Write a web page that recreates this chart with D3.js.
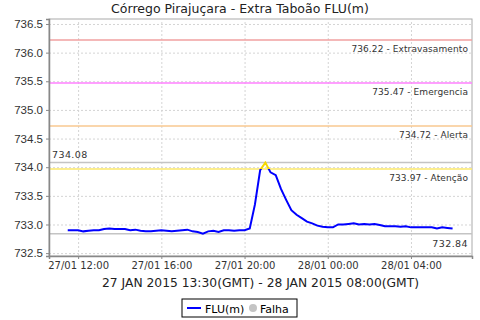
<!DOCTYPE html>
<html>
<head>
<meta charset="utf-8">
<script src="https://cdn.jsdelivr.net/npm/d3@7"></script>
<style>
  body { margin: 0; background: #fff; }
  svg { display: block; font-family: "DejaVu Sans", sans-serif; }
  .grid line { stroke: #d4d4d4; stroke-dasharray: 2,2; }
  .axis path, .axis line { stroke: #888; }
  .axis text { fill: #333; }
</style>
</head>
<body>
<svg id="chart" width="480" height="320"></svg>
<script>
// readings every 15 min, local time, 27/01 11:30 -> 28/01 06:00
const startTime = new Date(2015, 0, 27, 11, 30);
const stepMinutes = 15;
const levels = [
  732.90, 732.90, 732.90, 732.88, 732.89, 732.90, 732.90, 732.92, 732.93, 732.92,
  732.92, 732.92, 732.90, 732.91, 732.89, 732.88, 732.88, 732.89, 732.90, 732.89,
  732.88, 732.89, 732.90, 732.91, 732.88, 732.87, 732.84, 732.88, 732.89, 732.87,
  732.90, 732.90, 732.89, 732.90, 732.90, 732.93, 733.35, 733.95, 734.08, 733.91,
  733.86, 733.62, 733.43, 733.25, 733.17, 733.11, 733.05, 733.02, 732.98, 732.96,
  732.95, 732.95, 733.00, 733.00, 733.01, 733.02, 733.00, 733.01, 733.00, 733.01,
  732.99, 732.97, 732.97, 732.97, 732.96, 732.97, 732.95, 732.95, 732.95, 732.95,
  732.95, 732.93, 732.95, 732.94, 732.93
];

const thresholdValues = [736.22, 735.47, 734.72, 733.97];
const thresholdNames = ['Extravasamento', 'Emergencia', 'Alerta', 'Atenção'];
const thresholdColors = ['#f0a0a0', '#ff80ff', '#f8c890', '#fbe96a'];

const yTicks = [732.5, 733.0, 733.5, 734.0, 734.5, 735.0, 735.5, 736.0, 736.5];
const xTicks = [
  new Date(2015, 0, 27, 12), new Date(2015, 0, 27, 16), new Date(2015, 0, 27, 20),
  new Date(2015, 0, 28, 0), new Date(2015, 0, 28, 4)
];

const title = 'Córrego Pirajuçara - Extra Taboão FLU(m)';
const subtitle = '27 JAN 2015 13:30(GMT) - 28 JAN 2015 08:00(GMT)';

const data = levels.map((v, i) => ({
  t: new Date(startTime.getTime() + i * stepMinutes * 60000),
  v: v
}));

const svg = d3.select('#chart');
const m = { left: 49, right: 8, top: 19, bottom: 64 };
const W = 480, H = 320;
const iw = W - m.left - m.right, ih = H - m.top - m.bottom;

const x = d3.scaleTime()
  .domain([new Date(2015, 0, 27, 10, 36), new Date(2015, 0, 28, 6, 56)])
  .range([0, iw]);
const y = d3.scaleLinear().domain([732.45, 736.587]).range([ih, 0]);

const g = svg.append('g').attr('transform', `translate(${m.left},${m.top})`);

// border
g.append('rect').attr('width', iw).attr('height', ih)
  .attr('fill', 'none').attr('stroke', '#aaa');

// grid
g.append('g').attr('class', 'grid')
  .call(d3.axisLeft(y).tickValues(yTicks).tickSize(-iw).tickFormat(''))
  .call(s => s.select('.domain').remove());
g.append('g').attr('class', 'grid')
  .attr('transform', `translate(0,${ih})`)
  .call(d3.axisBottom(x).tickValues(xTicks).tickSize(-ih).tickFormat(''))
  .call(s => s.select('.domain').remove());

// min / max lines
const vMax = d3.max(levels), vMin = d3.min(levels);
[vMax, vMin].forEach(v => {
  g.append('line').attr('x1', 0).attr('x2', iw)
    .attr('y1', y(v)).attr('y2', y(v))
    .attr('stroke', '#c4c4c4').attr('stroke-width', 1.5);
});
g.append('text').attr('x', 3).attr('y', y(vMax) - 5)
  .attr('font-size', 9.5).attr('letter-spacing', 0.4).attr('fill', '#333')
  .text(vMax.toFixed(2));
g.append('text').attr('x', iw - 4).attr('y', y(vMin) + 13)
  .attr('text-anchor', 'end')
  .attr('font-size', 9.5).attr('letter-spacing', 0.4).attr('fill', '#333')
  .text(vMin.toFixed(2));

// thresholds
thresholdValues.forEach((v, i) => {
  g.append('line').attr('x1', 0).attr('x2', iw)
    .attr('y1', y(v)).attr('y2', y(v))
    .attr('stroke', thresholdColors[i]).attr('stroke-width', 1.5);
  g.append('text').attr('x', iw - 4).attr('y', y(v) + 12)
    .attr('text-anchor', 'end')
    .attr('font-size', 9).attr('letter-spacing', 0.1).attr('fill', '#333')
    .text(v.toFixed(2) + ' - ' + thresholdNames[i]);
});

// series: blue below the lowest threshold, yellow above it
const yAt = y(thresholdValues[3]);
const defs = svg.append('defs');
defs.append('clipPath').attr('id', 'below')
  .append('rect').attr('x', 0).attr('y', yAt).attr('width', iw).attr('height', ih - yAt);
defs.append('clipPath').attr('id', 'above')
  .append('rect').attr('x', 0).attr('y', 0).attr('width', iw).attr('height', yAt);

const line = d3.line().x(d => x(d.t)).y(d => y(d.v));
g.append('path').datum(data).attr('d', line)
  .attr('fill', 'none').attr('stroke', '#0000ff').attr('stroke-width', 2)
  .attr('clip-path', 'url(#below)');
g.append('path').datum(data).attr('d', line)
  .attr('fill', 'none').attr('stroke', '#f5d800').attr('stroke-width', 2)
  .attr('clip-path', 'url(#above)');

// axes
g.append('g').attr('class', 'axis')
  .call(d3.axisLeft(y).tickValues(yTicks).tickSize(3).tickFormat(d3.format('.1f')))
  .call(s => s.selectAll('text').attr('font-size', 11.5).attr('font-family', 'Liberation Sans'))
  .call(s => s.select('.domain').attr('stroke-width', 1.5));
g.append('g').attr('class', 'axis')
  .attr('transform', `translate(0,${ih})`)
  .call(d3.axisBottom(x).tickValues(xTicks).tickSize(3).tickFormat(d3.timeFormat('%d/%m %H:%M')))
  .call(s => s.selectAll('text').attr('font-size', 10).attr('font-family', 'DejaVu Sans'))
  .call(s => s.select('.domain').attr('stroke-width', 1.5));

// titles
svg.append('text').attr('x', W / 2).attr('y', 13).attr('text-anchor', 'middle')
  .attr('font-size', 12.5).attr('fill', '#222').text(title);
svg.append('text').attr('x', m.left + iw / 2).attr('y', 287).attr('text-anchor', 'middle')
  .attr('font-size', 12.3).attr('fill', '#222').text(subtitle);

// legend
const lg = svg.append('g').attr('transform', 'translate(182,299)');
lg.append('rect').attr('width', 115).attr('height', 18)
  .attr('fill', '#fff').attr('stroke', '#000');
lg.append('line').attr('x1', 5).attr('x2', 19).attr('y1', 9).attr('y2', 9)
  .attr('stroke', '#0000ff').attr('stroke-width', 2);
lg.append('text').attr('x', 23).attr('y', 13.5).attr('font-size', 11).text('FLU(m)');
lg.append('circle').attr('cx', 71).attr('cy', 9).attr('r', 4).attr('fill', '#c4c4c4');
lg.append('text').attr('x', 78).attr('y', 13.5).attr('font-size', 11).text('Falha');
</script>
</body>
</html>
